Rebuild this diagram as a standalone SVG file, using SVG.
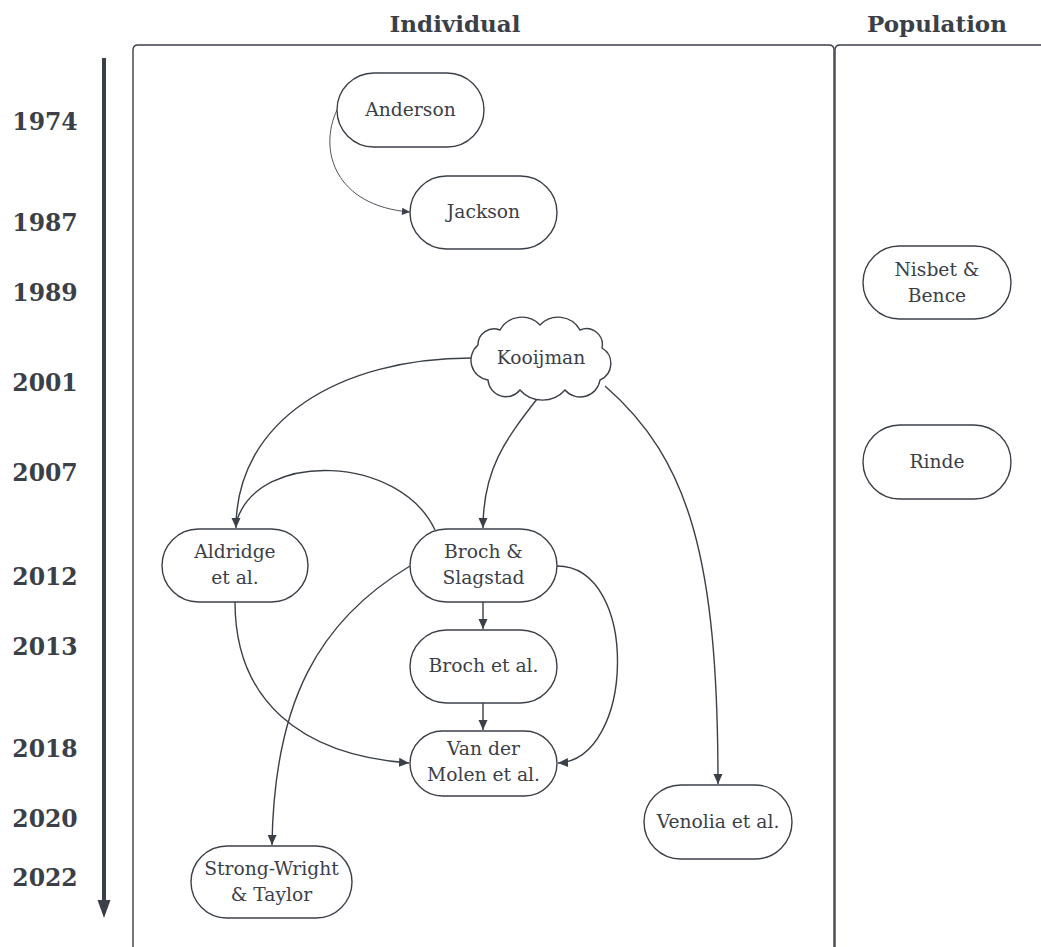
<svg xmlns="http://www.w3.org/2000/svg" width="1041" height="947" viewBox="0 0 1041 947">
<style>
.hdr{font-family:"DejaVu Serif","Liberation Serif",serif;font-weight:bold;font-size:23px;fill:#3b4048;text-anchor:middle}
.yr{font-family:"DejaVu Serif","Liberation Serif",serif;font-weight:bold;font-size:23.5px;fill:#3b4048;text-anchor:middle}
.nd{fill:#fff;stroke:#3b4048;stroke-width:1.4}
.tx{font-family:"DejaVu Serif","Liberation Serif",serif;font-size:18.7px;fill:#3b4048;text-anchor:middle}
.panel{fill:none;stroke:#3b4048;stroke-width:1.4}
.cn{fill:none;stroke:#3b4048;stroke-width:1.4}
</style>
<defs>
<marker id="ah" viewBox="0 0 10 10" refX="10" refY="5" markerWidth="10" markerHeight="10" markerUnits="userSpaceOnUse" orient="auto">
<path d="M0,0.5 L10,5 L0,9.5 Z" fill="#3b4048"/>
</marker>
<marker id="ahs" viewBox="0 0 10 10" refX="10" refY="5" markerWidth="10" markerHeight="8" markerUnits="userSpaceOnUse" orient="auto">
<path d="M0,0.5 L10,5 L0,9.5 Z" fill="#3b4048"/>
</marker>
</defs>
<rect width="1041" height="947" fill="#fff"/>
<g id="panels">
<path class="panel" d="M133,960 L133,50 Q133,45 138,45 L829,45 Q834,45 834,50 L834,960"/>
<path class="panel" d="M835,960 L835,50 Q835,45 840,45 L1045,45"/>
<text class="hdr" x="455" y="32">Individual</text>
<text class="hdr" x="937" y="32">Population</text>
</g>
<g id="timeline">
<line x1="104" y1="58" x2="104" y2="902" stroke="#3b4048" stroke-width="4"/>
<path d="M97.5,900 L110.5,900 L104,918 Z" fill="#3b4048"/>
<text class="yr" x="45" y="130">1974</text>
<text class="yr" x="45" y="231">1987</text>
<text class="yr" x="45" y="301">1989</text>
<text class="yr" x="45" y="391">2001</text>
<text class="yr" x="45" y="481">2007</text>
<text class="yr" x="45" y="585">2012</text>
<text class="yr" x="45" y="655">2013</text>
<text class="yr" x="45" y="757">2018</text>
<text class="yr" x="45" y="827">2020</text>
<text class="yr" x="45" y="886">2022</text>
</g>
<g id="connectors">
<path class="cn" style="stroke-width:0.9" marker-end="url(#ahs)" d="M337,110 C318,150 335,206 410,212"/>
<path class="cn" marker-end="url(#ah)" d="M472,358 C340,358 236,420 236,528"/>
<path class="cn" d="M435,530 C400,455 260,450 237,520"/>
<path class="cn" marker-end="url(#ah)" d="M537,399 C505,440 483,470 483,528"/>
<path class="cn" marker-end="url(#ah)" d="M605,386 C690,460 718,560 718,784"/>
<path class="cn" marker-end="url(#ah)" d="M483,602 L483,629"/>
<path class="cn" marker-end="url(#ah)" d="M483,703 L483,730"/>
<path class="cn" marker-end="url(#ah)" d="M235,602 C235,700 300,755 409,763"/>
<path class="cn" marker-end="url(#ah)" d="M557,566 C640,566 635,760 558,763"/>
<path class="cn" marker-end="url(#ah)" d="M410,566 C320,620 274,700 272,845"/>
</g>
<g id="anderson">
<rect class="nd" x="337" y="73" width="147" height="74" rx="37"/>
<text class="tx" x="410.5" y="116">Anderson</text>
</g>
<g id="jackson">
<rect class="nd" x="410" y="176" width="147" height="73" rx="36.5"/>
<text class="tx" x="483.5" y="218">Jackson</text>
</g>
<g id="nisbet-bence">
<rect class="nd" x="863" y="246" width="148" height="73" rx="36.5"/>
<text class="tx" x="937" y="276">Nisbet &amp;</text>
<text class="tx" x="937" y="302">Bence</text>
</g>
<g id="rinde">
<rect class="nd" x="863" y="425" width="148" height="74" rx="37"/>
<text class="tx" x="937" y="468">Rinde</text>
</g>
<g id="kooijman">
<path class="nd" d="M478,345 A16,16 0 0 1 500,330 A25,25 0 0 1 540,325 A25,25 0 0 1 580,330 A16,16 0 0 1 602,348 A18,18 0 0 1 600,380 A20,20 0 0 1 565,390 A30,30 0 0 1 520,390 A18,18 0 0 1 488,380 A20,20 0 0 1 478,345 Z"/>
<text class="tx" x="541" y="364">Kooijman</text>
</g>
<g id="aldridge">
<rect class="nd" x="162" y="529" width="146" height="73" rx="36.5"/>
<text class="tx" x="235" y="558">Aldridge</text>
<text class="tx" x="235" y="584">et al.</text>
</g>
<g id="broch-slagstad">
<rect class="nd" x="410" y="529" width="147" height="73" rx="36.5"/>
<text class="tx" x="483.5" y="558">Broch &amp;</text>
<text class="tx" x="483.5" y="584">Slagstad</text>
</g>
<g id="broch-et-al">
<rect class="nd" x="410" y="630" width="147" height="73" rx="36.5"/>
<text class="tx" x="483.5" y="672">Broch et al.</text>
</g>
<g id="van-der-molen">
<rect class="nd" x="410" y="731" width="147" height="65" rx="32.5"/>
<text class="tx" x="483.5" y="755">Van der</text>
<text class="tx" x="483.5" y="781">Molen et al.</text>
</g>
<g id="venolia">
<rect class="nd" x="644" y="785" width="148" height="74" rx="37"/>
<text class="tx" x="718" y="828">Venolia et al.</text>
</g>
<g id="strong-wright-taylor">
<rect class="nd" x="191" y="846" width="161" height="72" rx="36"/>
<text class="tx" x="271.5" y="875">Strong-Wright</text>
<text class="tx" x="271.5" y="901">&amp; Taylor</text>
</g>
</svg>
